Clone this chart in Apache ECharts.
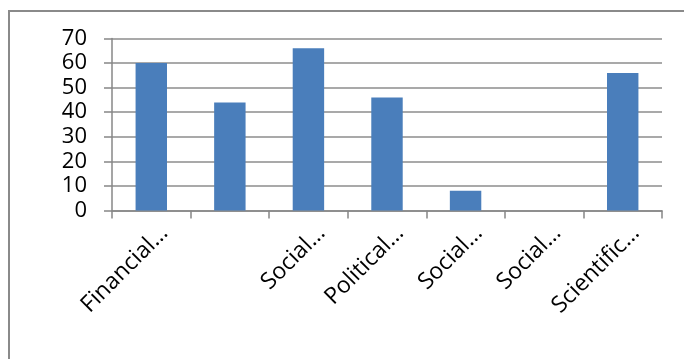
<!DOCTYPE html>
<html>
<head>
<meta charset="utf-8">
<script src="https://cdn.jsdelivr.net/npm/echarts@6/dist/echarts.min.js"></script>
<style>
html,body{margin:0;padding:0;background:#fff;}
#chart{width:684px;height:359px;}
</style>
</head>
<body>
<div id="chart"></div>
<script>
var categories = ["Financial…", "", "Social…", "Political…", "Social…", "Social…", "Scientific…"];
var values = [60, 44, 66, 46, 8, 0, 56];
var yTicks = [0, 10, 20, 30, 40, 50, 60, 70];

var chart = echarts.init(document.getElementById('chart'), null, {renderer: 'canvas'});
var axisGray = '#878787';
chart.setOption({
  animation: false,
  backgroundColor: '#ffffff',
  textStyle: {fontFamily: 'Open Sans'},
  graphic: [{
    type: 'rect',
    shape: {x: 9, y: 11, width: 720, height: 400},
    style: {fill: 'none', stroke: '#8a8a8a', lineWidth: 2},
    silent: true
  }],
  grid: {left: 112, top: 38.5, width: 550, height: 172, containLabel: false},
  xAxis: {
    type: 'category',
    data: categories,
    boundaryGap: true,
    axisLine: {show: true, lineStyle: {color: axisGray, width: 1.5}},
    axisTick: {show: true, length: 8, inside: false, alignWithLabel: false, interval: 0, lineStyle: {color: axisGray, width: 1.5}},
    axisLabel: {
      interval: 0, rotate: 45, margin: 6,
      verticalAlign: 'top', lineHeight: 37,
      color: '#000', fontSize: 23, fontFamily: 'Open Sans'
    },
    splitLine: {show: false}
  },
  yAxis: {
    type: 'value',
    min: yTicks[0], max: yTicks[yTicks.length - 1], interval: 10,
    axisLine: {show: true, lineStyle: {color: axisGray, width: 1.5}},
    axisTick: {show: true, length: 8, inside: false, lineStyle: {color: axisGray, width: 1.5}},
    axisLabel: {margin: 25, color: '#000', fontSize: 22, fontFamily: 'Open Sans'},
    splitLine: {show: true, lineStyle: {color: '#8c8c8c', width: 1.5}}
  },
  series: [{
    type: 'bar',
    data: values,
    barWidth: '40%',
    itemStyle: {color: '#4a7ebb'}
  }]
});
</script>
</body>
</html>
